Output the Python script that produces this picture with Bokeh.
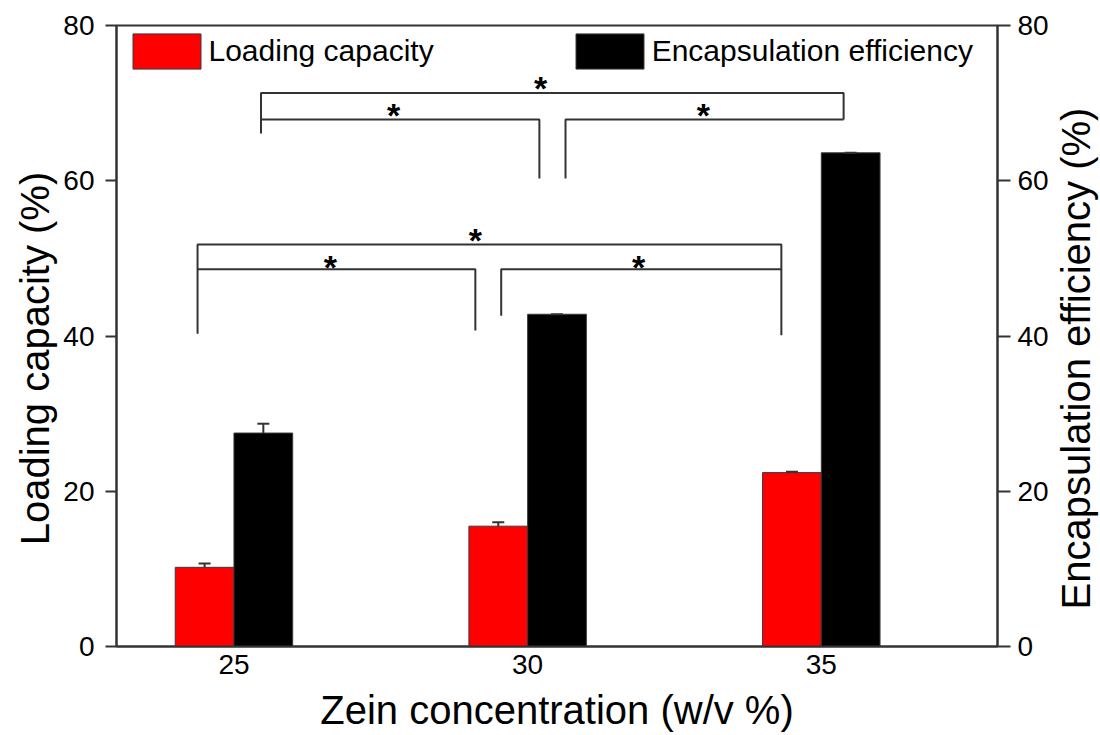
from bokeh.plotting import figure
from bokeh.models import (Range1d, LinearAxis, FixedTicker, Whisker, ColumnDataSource,
                          Legend, LegendItem, TeeHead, Label)
from bokeh.core.properties import value
from bokeh.embed import file_html
from bokeh.resources import INLINE

# Zein concentration groups (w/v %)
conc = [25, 30, 35]
conc_labels = ["25", "30", "35"]

# Loading capacity (%) with error
loading = [10.2, 15.5, 22.4]
loading_err = [0.5, 0.5, 0.1]

# Encapsulation efficiency (%) with error
encap = [27.5, 42.8, 63.6]
encap_err = [1.2, 0.0, 0.0]

y_ticks = [0, 20, 40, 60, 80]

FONT = "Liberation Sans"
AXIS_COLOR = "#333333"

p = figure(width=1100, height=735, output_backend="svg", toolbar_location=None,
           x_range=Range1d(23, 38), y_range=Range1d(0, 80),
           min_border_left=116, min_border_right=103, min_border_top=25, min_border_bottom=89)
p.background_fill_color = "white"
p.border_fill_color = "white"
p.grid.visible = False
p.outline_line_color = AXIS_COLOR
p.outline_line_width = 2

lc_src = ColumnDataSource(dict(
    x=[c - 0.5 for c in conc], top=loading,
    upper=[v + e for v, e in zip(loading, loading_err)]))
ee_src = ColumnDataSource(dict(
    x=[c + 0.5 for c in conc], top=encap,
    upper=[v + e for v, e in zip(encap, encap_err)]))

r_lc = p.vbar(x="x", top="top", width=1.0, bottom=0, source=lc_src,
              fill_color="#ff0000", line_color="#3a3a3a", line_width=1)
r_ee = p.vbar(x="x", top="top", width=1.0, bottom=0, source=ee_src,
              fill_color="#000000", line_color="#3a3a3a", line_width=1)

for src in (lc_src, ee_src):
    w = Whisker(base="x", lower="top", upper="upper", source=src, dimension="height",
                line_color=AXIS_COLOR, line_width=2, level="overlay",
                upper_head=TeeHead(size=12, line_color=AXIS_COLOR, line_width=2),
                lower_head=None)
    p.add_layout(w)

# Significance brackets: (x_left, x_right, y_bar, y_left_end, y_right_end)
brackets = [
    (25.46, 35.38, 71.3, 67.9, 67.9),
    (25.46, 30.20, 67.9, 66.1, 60.3),
    (30.645, 35.38, 67.9, 60.3, 67.9),
    (24.38, 34.32, 51.8, 40.3, 40.1),
    (24.38, 29.11, 48.6, 48.6, 40.7),
    (29.55, 34.32, 48.6, 42.6, 48.6),
]
p.multi_line(xs=[[b[0], b[0], b[1], b[1]] for b in brackets],
             ys=[[b[3], b[2], b[2], b[4]] for b in brackets],
             line_color=AXIS_COLOR, line_width=2)

star_x = [30.22, 27.72, 32.99, 29.11, 26.64, 31.89]
star_y = [72.5, 69.0, 69.0, 52.9, 49.5, 49.5]
p.text(x=star_x, y=star_y, text=["*"] * len(star_x), text_font=value(FONT),
       text_font_size="34px", text_font_style="bold", text_align="center",
       text_baseline="middle", text_color="black", y_offset=4.5)

# Axes
xa = p.xaxis[0]
xa.ticker = FixedTicker(ticks=conc)
xa.major_label_overrides = {c: l for c, l in zip(conc, conc_labels)}
xa.major_tick_out = 0
xa.major_tick_in = 0
xa.minor_tick_out = 0
xa.minor_tick_in = 0
xa.axis_label = "Zein concentration (w/v %)"
xa.major_label_standoff = 8
xa.axis_label_standoff = 11

ya = p.yaxis[0]
ya.ticker = FixedTicker(ticks=y_ticks)
ya.major_tick_out = 11
ya.major_tick_in = 0
ya.minor_tick_out = 0
ya.minor_tick_in = 0
ya.major_label_standoff = 11

p.extra_y_ranges = {"ee": Range1d(0, 80)}
yr = LinearAxis(y_range_name="ee", ticker=FixedTicker(ticks=y_ticks))
yr.major_tick_out = 13
yr.major_tick_in = 0
yr.minor_tick_out = 0
yr.minor_tick_in = 0
yr.major_label_standoff = 7
p.add_layout(yr, "right")

for ax in (xa, ya, yr):
    ax.axis_line_color = AXIS_COLOR
    ax.axis_line_width = 2
    ax.major_tick_line_color = AXIS_COLOR
    ax.major_tick_line_width = 2
    ax.major_label_text_font = FONT
    ax.major_label_text_font_size = "28px"
    ax.major_label_text_color = "black"
    ax.axis_label_text_font = FONT
    ax.axis_label_text_font_size = "40px"
    ax.axis_label_text_font_style = "normal"
    ax.axis_label_text_color = "black"

# Vertical axis titles, both reading bottom-to-top, placed in the side panels
for txt, xpos, side in (("Loading capacity (%)", 21.62, "left"),
                        ("Encapsulation efficiency (%)", 39.33, "right")):
    p.add_layout(Label(x=xpos, y=37.1, text=txt, angle=90, angle_units="deg",
                       text_align="center", text_baseline="middle",
                       text_font=FONT, text_font_size="40px", text_color="black"), side)

legend = Legend(items=[LegendItem(label="Loading capacity", renderers=[r_lc]),
                       LegendItem(label="Encapsulation efficiency", renderers=[r_ee])],
                orientation="horizontal", location=(7.5, 573.4),
                glyph_width=85, glyph_height=44, label_standoff=0, spacing=133,
                padding=0, margin=0, border_line_alpha=0, background_fill_alpha=0,
                label_text_font=FONT, label_text_font_size="30px", label_text_color="black")
p.add_layout(legend)

open("out.html", "w").write(file_html(p, INLINE))
